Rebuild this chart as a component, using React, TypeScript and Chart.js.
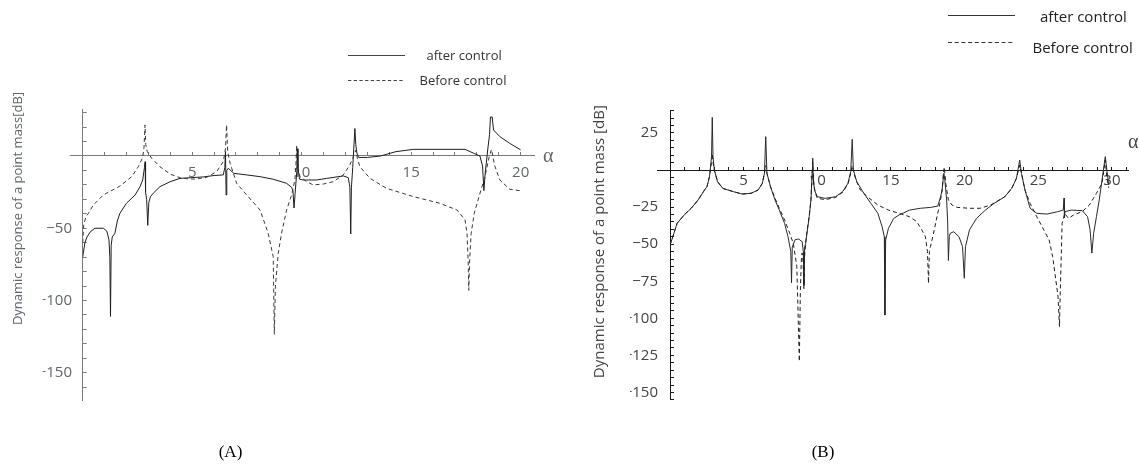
import React, { useEffect, useRef } from 'react';
import { Chart, registerables } from 'chart.js';

Chart.register(...registerables);

// ---------------- Panel A data ----------------
const A_AFTER_X = [0, 0.1, 0.2, 0.35, 0.56, 0.94, 1.1, 1.2, 1.24, 1.27, 1.3, 1.35, 1.47, 1.58, 1.7, 2.0, 2.39, 2.62, 2.74, 2.82, 2.85, 2.87, 2.92, 2.97, 3.02, 3.1, 3.22, 3.53, 3.99, 4.44, 4.95, 5.5, 6.0, 6.42, 6.49, 6.52, 6.55, 6.58, 6.65, 6.9, 7.49, 8.1, 8.7, 9.31, 9.54, 9.6, 9.65, 9.7, 9.78, 9.8, 9.83, 9.9, 10.07, 10.68, 11.14, 11.9, 12.13, 12.2, 12.24, 12.27, 12.33, 12.43, 12.47, 12.52, 12.6, 13.0, 13.6, 14.3, 15.1, 17.46, 17.84, 18.14, 18.26, 18.32, 18.38, 18.5, 18.58, 18.62, 18.7, 18.76, 19.05, 19.5, 20.0];
const A_AFTER_Y = [-70, -60, -56, -52.4, -50, -50, -52, -58, -70, -111, -62, -56, -53.5, -45, -39.6, -32.7, -27, -21.2, -16.6, -8, -4, -25, -30, -48, -32, -28, -25.8, -21.2, -17.8, -15.5, -15, -14.5, -13.5, -13.1, -8, 3, -27, -10, -8.5, -12, -13.1, -14.3, -16.1, -18.9, -21.7, -24, -36, -26, -10, 5, -8, -16, -16.6, -16.6, -15.5, -13.8, -15, -21.5, -54, -22, -8, 19, 8, 2, -1, -1, 0, 3, 4.6, 4.6, 2, 0, -7, -24, -12, 5, 15, 27, 27, 18, 13.4, 8.8, 4.2];

const A_BEFORE_X = [0, 0.05, 0.15, 0.26, 0.48, 0.94, 1.7, 2.24, 2.54, 2.74, 2.8, 2.845, 2.88, 2.95, 3.15, 3.53, 3.99, 4.52, 5.1, 5.66, 6.12, 6.42, 6.52, 6.57, 6.62, 6.73, 7.03, 7.49, 8.1, 8.47, 8.7, 8.75, 8.8, 8.93, 9.08, 9.31, 9.54, 9.69, 9.74, 9.77, 9.8, 9.92, 10.23, 10.53, 10.99, 11.44, 11.9, 12.2, 12.35, 12.47, 12.55, 12.66, 13.12, 13.88, 15.1, 16.3, 17.1, 17.46, 17.55, 17.6, 17.63, 17.67, 17.74, 17.88, 18.1, 18.37, 18.57, 18.67, 18.75, 18.83, 19.05, 19.5, 19.97];
const A_BEFORE_Y = [-60, -47, -42, -39.7, -34, -27, -20.8, -14.3, -7.4, -1, 6, 21.5, 8, 3, -1.6, -7.4, -12.5, -15.5, -16, -14.8, -10.8, -3.9, 5, 21.5, 3, -5, -18.9, -27, -37.4, -53.5, -69.7, -123.4, -90, -67.3, -53.5, -37.4, -27, -16.6, -5, 7.6, -5, -14.3, -17.8, -20, -19.4, -17.8, -13.1, -6.2, -0.7, 4, -2, -7.4, -15.5, -22.4, -28.1, -32.7, -37.4, -44.3, -53.5, -72, -93, -72, -53.5, -39.7, -28, -14.3, 0, 4.6, -2, -7.4, -16.6, -23, -24];

// ---------------- Panel B data ----------------
const B_AFTER_X = [0, 0.19, 0.48, 0.96, 1.44, 1.91, 2.27, 2.51, 2.68, 2.82, 2.87, 2.92, 3.01, 3.23, 3.59, 4.31, 4.9, 5.5, 5.98, 6.27, 6.41, 6.5, 6.58, 6.82, 7.13, 7.42, 7.78, 8.01, 8.2, 8.25, 8.3, 8.49, 8.73, 8.97, 9.05, 9.09, 9.14, 9.21, 9.45, 9.57, 9.66, 9.69, 9.72, 9.81, 10.0, 10.53, 11.24, 11.72, 12.08, 12.27, 12.37, 12.45, 12.68, 13.16, 13.64, 14.11, 14.4, 14.55, 14.59, 14.64, 14.83, 15.19, 15.55, 16.27, 16.99, 17.7, 18.18, 18.37, 18.47, 18.59, 18.66, 18.78, 18.85, 18.9, 18.96, 19.02, 19.26, 19.62, 19.86, 19.98, 20.06, 20.33, 20.81, 21.41, 22.0, 22.73, 23.2, 23.52, 23.74, 23.86, 24.1, 24.45, 24.9, 25.6, 26.32, 26.7, 26.75, 26.78, 26.82, 27.27, 27.99, 28.35, 28.52, 28.64, 28.76, 28.95, 29.14, 29.33, 29.55, 29.66, 29.78];
const B_AFTER_Y = [-50.6, -45, -36, -30.3, -25.8, -20.2, -14.6, -11.2, -4.5, 9, 35.5, 9, 0, -7.9, -12.4, -14.6, -16.2, -15.7, -13.5, -9, -2.2, 22.5, -2.2, -11.2, -20.2, -27, -36, -45, -55, -76, -52, -47, -46.5, -48.3, -55, -78, -52, -49.4, -31.5, -20.2, 0, 8, -5, -13.5, -18, -19.1, -18, -14.6, -9, -1.1, 20.7, 0, -7.9, -15.7, -22.5, -29.2, -38.2, -45, -97.8, -47.2, -39.3, -32.6, -30.3, -27, -25.8, -25.2, -24.3, -18, -13.5, -2.2, -6.7, -20.2, -35, -61, -45, -42.7, -41.6, -45, -51.7, -73, -51.7, -40.4, -32.6, -27, -22.5, -18, -12.4, -5.6, 6.7, -2.2, -13.5, -25.8, -29.2, -29.7, -28.1, -27, -19, -32, -28, -27, -27.4, -31.5, -40.4, -56, -42.7, -31.5, -20.2, -6.7, 9, 0, -10];

const B_BEFORE_X = [0, 0.19, 0.48, 0.96, 1.44, 1.91, 2.27, 2.51, 2.68, 2.82, 2.87, 2.92, 3.01, 3.23, 3.59, 4.31, 4.9, 5.5, 5.98, 6.27, 6.41, 6.5, 6.58, 6.82, 7.13, 7.42, 7.78, 8.13, 8.37, 8.61, 8.78, 8.85, 8.92, 8.97, 9.04, 9.09, 9.14, 9.25, 9.45, 9.57, 9.66, 9.69, 9.75, 9.85, 10.0, 10.53, 11.24, 11.72, 12.08, 12.27, 12.37, 12.47, 12.68, 12.92, 13.4, 14.11, 14.83, 15.55, 16.27, 16.75, 17.1, 17.34, 17.48, 17.55, 17.61, 17.68, 17.84, 18.08, 18.32, 18.48, 18.55, 18.62, 18.72, 18.9, 19.14, 19.5, 20.33, 21.05, 21.77, 22.73, 23.2, 23.52, 23.74, 23.86, 24.1, 24.45, 24.9, 25.38, 25.74, 25.98, 26.34, 26.44, 26.5, 26.62, 26.8, 27.05, 27.4, 27.99, 28.47, 28.95, 29.33, 29.55, 29.66, 29.78];
const B_BEFORE_Y = [-50.6, -45, -36, -30.3, -25.8, -20.2, -14.6, -11.2, -4.5, 5, 11, 5, 0, -7.9, -12.4, -14.6, -16.2, -15.7, -13.5, -9, -2.2, 3, -2.2, -11.2, -19, -25.8, -33.7, -42.7, -49.4, -65, -129, -81, -60, -56, -62, -80, -58, -45, -31, -20, 0, 5, -8, -15, -19, -20, -18.5, -15, -9.5, -2, 3, -2, -8, -13.5, -18, -23.6, -27, -29.2, -31.5, -34.8, -40.4, -45, -55, -76.4, -55, -51.7, -45, -33.7, -22.5, -13.5, -3.4, 2, -9, -20.2, -23.6, -25.2, -25.8, -25.8, -23.6, -18, -12.4, -5.6, 3.4, -2.2, -13.5, -22.5, -31.5, -40.4, -47.2, -58.4, -85, -105.6, -81, -36, -29.2, -32.6, -30.3, -28, -23.6, -15.7, -9, 6.7, -5, -12];

// ---------------- axis tick settings ----------------
const A_X_LABELS = [5, 10, 15, 20];
const A_Y_LABELS = [-50, -100, -150];
const B_X_LABELS = [5, 10, 15, 20, 25, 30];
const B_Y_LABELS = [25, -25, -50, -75, -100, -125, -150];

function zip(xs: number[], ys: number[]) {
  return xs.map((x, i) => ({ x, y: ys[i] }));
}

function fmt(v: number) {
  return v < 0 ? '\u2212' + Math.abs(v) : String(v);
}

function near(list: number[], v: number) {
  return list.some((l) => Math.abs(l - v) < 1e-6);
}

const axisStub = {
  id: 'axisStub',
  beforeDatasetsDraw(chart: any, _args: any, opts: any) {
    const xs = chart.scales.x;
    const ys = chart.scales.y;
    const px = xs.getPixelForValue(0);
    const py = Math.round(ys.getPixelForValue(0) - 0.5) + 0.5;
    const ctx = chart.ctx;
    ctx.save();
    ctx.strokeStyle = opts.color;
    ctx.lineWidth = 1;
    ctx.beginPath();
    ctx.moveTo(px - opts.length, py);
    ctx.lineTo(px, py);
    ctx.stroke();
    ctx.restore();
  },
};

type PanelSpec = {
  width: number;
  height: number;
  padding: { left: number; right: number; top: number; bottom: number };
  yAxisWidth: number;
  xMax: number;
  yMin: number;
  yMax: number;
  yStep: number;
  xLabels: number[];
  yLabels: number[];
  xPad: number;
  yPad: number;
  axisColor: string;
  labelColor: string;
  after: { x: number[]; y: number[]; color: string };
  before: { x: number[]; y: number[]; color: string; dash: number[] };
};

function buildConfig(p: PanelSpec): any {
  const font = { family: 'Open Sans', size: 15 };
  return {
    type: 'line',
    data: {
      datasets: [
        {
          label: 'Before control',
          data: zip(p.before.x, p.before.y),
          borderColor: p.before.color,
          borderDash: p.before.dash,
          borderWidth: 1,
          pointRadius: 0,
          fill: false,
          tension: 0,
        },
        {
          label: 'after control',
          data: zip(p.after.x, p.after.y),
          borderColor: p.after.color,
          borderWidth: 1,
          pointRadius: 0,
          fill: false,
          tension: 0,
        },
      ],
    },
    options: {
      animation: false,
      responsive: false,
      events: [],
      layout: { autoPadding: false, padding: p.padding },
      plugins: {
        legend: { display: false },
        tooltip: { enabled: false },
        title: { display: false },
        axisStub: { length: 13, color: p.axisColor },
      },
      scales: {
        x: {
          type: 'linear',
          min: 0,
          max: p.xMax,
          position: { y: 0 },
          afterFit: (s: any) => {
            s.height = 0;
            s.paddingLeft = 0;
            s.paddingRight = 0;
            s.paddingTop = 0;
            s.paddingBottom = 0;
          },
          ticks: {
            stepSize: 1,
            autoSkip: false,
            maxRotation: 0,
            minRotation: 0,
            includeBounds: false,
            padding: p.xPad,
            color: p.labelColor,
            font,
            callback: (v: number) => (near(p.xLabels, v) ? fmt(v) : ''),
          },
          grid: {
            display: true,
            drawOnChartArea: false,
            drawTicks: true,
            tickLength: -4,
            tickColor: p.axisColor,
            tickWidth: 1,
          },
          border: { display: true, color: p.axisColor, width: 1 },
        },
        y: {
          type: 'linear',
          position: 'left',
          min: p.yMin,
          max: p.yMax,
          afterFit: (s: any) => {
            s.width = p.yAxisWidth;
            s.paddingLeft = 0;
            s.paddingRight = 0;
            s.paddingTop = 0;
            s.paddingBottom = 0;
          },
          ticks: {
            stepSize: p.yStep,
            autoSkip: false,
            includeBounds: false,
            padding: p.yPad,
            color: p.labelColor,
            font,
            callback: (v: number) => (near(p.yLabels, v) ? fmt(v) : ''),
          },
          grid: {
            display: true,
            drawOnChartArea: false,
            drawTicks: true,
            tickLength: -4,
            tickColor: p.axisColor,
            tickWidth: 1,
          },
          border: { display: true, color: p.axisColor, width: 1 },
        },
      },
    },
    plugins: [axisStub],
  };
}

const PANEL_A: PanelSpec = {
  width: 560,
  height: 330,
  padding: { left: 42.7, right: 25.1, top: 19.76, bottom: 19.8 },
  yAxisWidth: 40,
  xMax: 20.65,
  yMin: -169,
  yMax: 32,
  yStep: 10,
  xLabels: A_X_LABELS,
  yLabels: A_Y_LABELS,
  xPad: 12,
  yPad: 14.7,
  axisColor: '#7a7a7a',
  labelColor: '#5f6670',
  after: { x: A_AFTER_X, y: A_AFTER_Y, color: '#1e1e1e' },
  before: { x: A_BEFORE_X, y: A_BEFORE_Y, color: '#3a3a3a', dash: [4, 3] },
};

const PANEL_B: PanelSpec = {
  width: 559,
  height: 330,
  padding: { left: 50, right: 10.9, top: 20.7, bottom: 20.1 },
  yAxisWidth: 40,
  xMax: 31.1,
  yMin: -155,
  yMax: 40,
  yStep: 5,
  xLabels: B_X_LABELS,
  yLabels: B_Y_LABELS,
  xPad: 6,
  yPad: 16,
  axisColor: '#1a1a1a',
  labelColor: '#444444',
  after: { x: B_AFTER_X, y: B_AFTER_Y, color: '#2a2a2a' },
  before: { x: B_BEFORE_X, y: B_BEFORE_Y, color: '#1e1e1e', dash: [4, 3] },
};

function Panel({ spec, left, top }: { spec: PanelSpec; left: number; top: number }) {
  const ref = useRef<HTMLCanvasElement | null>(null);
  useEffect(() => {
    if (!ref.current) return;
    const chart = new Chart(ref.current, buildConfig(spec));
    return () => chart.destroy();
  }, [spec]);
  return (
    <canvas
      ref={ref}
      width={spec.width}
      height={spec.height}
      style={{ position: 'absolute', left, top, width: spec.width, height: spec.height }}
    />
  );
}

export default function App() {
  return (
    <div
      style={{
        position: 'absolute',
        left: 0,
        top: 0,
        width: 1139,
        height: 466,
        background: '#ffffff',
        overflow: 'hidden',
      }}
    >
      <Panel spec={PANEL_A} left={0} top={90} />
      <Panel spec={PANEL_B} left={580} top={90} />
      <svg
        width={1139}
        height={466}
        style={{ position: 'absolute', left: 0, top: 0, pointerEvents: 'none' }}
      >
        {/* Legend A */}
        <line x1={348} y1={55.5} x2={405} y2={55.5} stroke="#444" strokeWidth={1} />
        <text x={426.5} y={60} fontFamily="Open Sans" fontSize={13} fill="#333">after control</text>
        <line x1={348} y1={80.5} x2={405} y2={80.5} stroke="#444" strokeWidth={1} strokeDasharray="3.3 2.4" />
        <text x={419.5} y={85} fontFamily="Open Sans" fontSize={13} fill="#333">Before control</text>

        {/* Legend B */}
        <line x1={948} y1={15.5} x2={1015} y2={15.5} stroke="#333" strokeWidth={1} />
        <text x={1040} y={21.5} fontFamily="Open Sans" fontSize={15} fill="#222">after control</text>
        <line x1={948} y1={42.5} x2={1015} y2={42.5} stroke="#333" strokeWidth={1} strokeDasharray="4 2.7" />
        <text x={1032.5} y={53} fontFamily="Open Sans" fontSize={15} fill="#222">Before control</text>

        {/* Axis titles */}
        <text
          transform="translate(21.5 208.5) rotate(-90)"
          textAnchor="middle"
          fontFamily="Open Sans"
          fontSize={13}
          fill="#5f6670"
        >
          Dynamic response of a point mass[dB]
        </text>
        <text
          transform="translate(604 241.7) rotate(-90)"
          textAnchor="middle"
          fontFamily="Open Sans"
          fontSize={15}
          fill="#444"
        >
          Dynamic response of a point mass [dB]
        </text>

        {/* alpha labels */}
        <text x={543} y={161.7} fontFamily="Liberation Serif" fontSize={20} fill="#5f6670">α</text>
        <text x={1128} y={148.3} fontFamily="Liberation Serif" fontSize={20} fill="#444">α</text>

        {/* captions */}
        <text x={230.5} y={457} textAnchor="middle" fontFamily="Liberation Serif" fontSize={17} fill="#000">(A)</text>
        <text x={823} y={457} textAnchor="middle" fontFamily="Liberation Serif" fontSize={17} fill="#000">(B)</text>
      </svg>
    </div>
  );
}
